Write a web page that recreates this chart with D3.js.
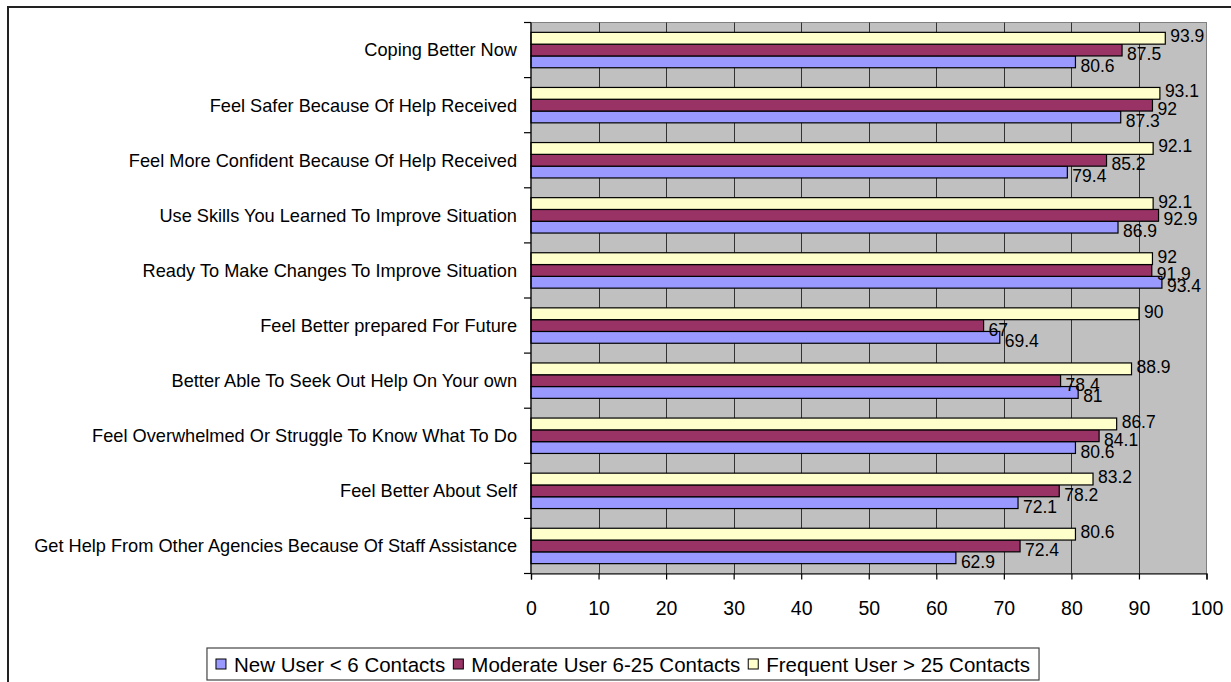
<!DOCTYPE html>
<html>
<head>
<meta charset="utf-8">
<script src="https://cdn.jsdelivr.net/npm/d3@7"></script>
<style>
  html, body { margin: 0; padding: 0; background: #fff; }
  svg { display: block; font-family: Arial, "Liberation Sans", sans-serif; }
</style>
</head>
<body>
<svg id="chart" width="1231" height="682"></svg>
<script>
// Survey outcome categories, listed top to bottom
const categories = [
  "Coping Better Now",
  "Feel Safer Because Of Help Received",
  "Feel More Confident Because Of Help Received",
  "Use Skills You Learned To Improve Situation",
  "Ready To Make Changes To Improve Situation",
  "Feel Better prepared For Future",
  "Better Able To Seek Out Help On Your own",
  "Feel Overwhelmed Or Struggle To Know What To Do",
  "Feel Better About Self",
  "Get Help From Other Agencies Because Of Staff Assistance"
];

// Percentages per user group
const newUser      = [80.6, 87.3, 79.4, 86.9, 93.4, 69.4, 81, 80.6, 72.1, 62.9];
const moderateUser = [87.5, 92, 85.2, 92.9, 91.9, 67, 78.4, 84.1, 78.2, 72.4];
const frequentUser = [93.9, 93.1, 92.1, 92.1, 92, 90, 88.9, 86.7, 83.2, 80.6];

const seriesNames = ["New User < 6 Contacts", "Moderate User 6-25 Contacts", "Frequent User > 25 Contacts"];
const xTicks = [0, 10, 20, 30, 40, 50, 60, 70, 80, 90, 100];

const series = [
  { key: "new",      name: seriesNames[0], values: newUser,      color: "#9999FF", labelDy: 4 },
  { key: "moderate", name: seriesNames[1], values: moderateUser, color: "#993366", labelDy: 4 },
  { key: "frequent", name: seriesNames[2], values: frequentUser, color: "#FFFFCC", labelDy: -2 }
];

const svg = d3.select("#chart");

// Outer chart frame (continues past the right and bottom edges)
svg.append("rect")
  .attr("x", 8).attr("y", 7)
  .attr("width", 1240).attr("height", 700)
  .attr("fill", "#fff").attr("stroke", "#222").attr("stroke-width", 2);

const plot = { left: 531, right: 1206.5, top: 22.5, bottom: 573.5 };

const x = d3.scaleLinear().domain([0, 100]).range([plot.left, plot.right]);
const y = d3.scaleBand().domain(categories).range([plot.top, plot.bottom]).paddingInner(0).paddingOuter(0);
// Within each category: frequent on top, then moderate, then new
const ySub = d3.scaleBand().domain(["frequent", "moderate", "new"])
  .range([0, y.bandwidth()]).paddingInner(0).paddingOuter(0.835);

// Plot background
svg.append("rect")
  .attr("x", plot.left).attr("y", plot.top)
  .attr("width", plot.right - plot.left).attr("height", plot.bottom - plot.top)
  .attr("fill", "#C0C0C0").attr("stroke", "#808080").attr("stroke-width", 1);

// Vertical gridlines
svg.append("g")
  .selectAll("line")
  .data(xTicks.filter(d => d > 0 && d < 100))
  .join("line")
  .attr("x1", d => Math.round(x(d)) + 0.5).attr("x2", d => Math.round(x(d)) + 0.5)
  .attr("y1", plot.top).attr("y2", plot.bottom)
  .attr("stroke", "#333").attr("stroke-width", 1);

// Bars
const barGroup = svg.append("g");
series.forEach(s => {
  barGroup.append("g")
    .selectAll("rect")
    .data(categories.map((c, i) => ({ c, v: s.values[i] })))
    .join("rect")
    .attr("x", x(0))
    .attr("y", d => y(d.c) + ySub(s.key))
    .attr("width", d => x(d.v) - x(0))
    .attr("height", ySub.bandwidth())
    .attr("fill", s.color)
    .attr("stroke", "#000").attr("stroke-width", 1.2);
});

// Value labels
const labelGroup = svg.append("g")
  .attr("font-size", "17.5px").attr("fill", "#000");
series.forEach(s => {
  labelGroup.append("g")
    .selectAll("text")
    .data(categories.map((c, i) => ({ c, v: s.values[i] })))
    .join("text")
    .attr("x", d => x(d.v) + 5)
    .attr("y", d => y(d.c) + ySub(s.key) + ySub.bandwidth() / 2 + s.labelDy + 6)
    .text(d => d.v);
});

// Bottom axis
const xAxis = d3.axisBottom(x).tickValues(xTicks).tickSize(6).tickPadding(0).tickFormat(d3.format("d"));
const gx = svg.append("g")
  .attr("transform", `translate(0,${plot.bottom})`)
  .call(xAxis);
gx.select(".domain").attr("stroke", "#000").attr("stroke-width", 1.2);
gx.selectAll(".tick line").attr("stroke", "#000").attr("stroke-width", 1.2);
gx.selectAll(".tick text")
  .attr("font-family", "Arial, 'Liberation Sans', sans-serif")
  .attr("font-size", "19.5px").attr("fill", "#000")
  .attr("dy", null).attr("y", 41.5);

// Left axis with ticks on category boundaries
const boundaries = categories.map(c => y(c)).concat([plot.bottom]);
svg.append("line")
  .attr("x1", plot.left).attr("x2", plot.left)
  .attr("y1", plot.top).attr("y2", plot.bottom)
  .attr("stroke", "#000").attr("stroke-width", 1.2);
svg.append("g")
  .selectAll("line")
  .data(boundaries)
  .join("line")
  .attr("x1", plot.left - 7).attr("x2", plot.left)
  .attr("y1", d => d).attr("y2", d => d)
  .attr("stroke", "#000").attr("stroke-width", 1.2);

// Category labels
svg.append("g")
  .attr("font-size", "18.2px").attr("fill", "#000").attr("text-anchor", "end")
  .selectAll("text")
  .data(categories)
  .join("text")
  .attr("x", 517)
  .attr("y", d => y(d) + y.bandwidth() / 2 + 6.4)
  .text(d => d);

// Legend
const legend = svg.append("g");
const legendY = 664;
const swatch = 10;
const fontSize = 20.5;
let cursor = 0;
series.forEach(s => {
  const item = legend.append("g");
  item.append("rect")
    .attr("x", cursor).attr("y", legendY - swatch / 2)
    .attr("width", swatch).attr("height", swatch)
    .attr("fill", s.color).attr("stroke", "#000").attr("stroke-width", 1);
  const t = item.append("text")
    .attr("x", cursor + swatch + 8)
    .attr("y", legendY + 7.5)
    .attr("font-size", fontSize + "px").attr("fill", "#000")
    .text(s.name);
  const w = t.node().getComputedTextLength();
  cursor += swatch + 8 + w + 8;
});
const totalW = cursor - 8;
const legendCenter = 623;
const lx = legendCenter - totalW / 2;
legend.attr("transform", `translate(${lx},0)`);
legend.insert("rect", ":first-child")
  .attr("x", -9).attr("y", 648)
  .attr("width", totalW + 18).attr("height", 32)
  .attr("fill", "#fff").attr("stroke", "#444").attr("stroke-width", 1.2);
</script>
</body>
</html>
